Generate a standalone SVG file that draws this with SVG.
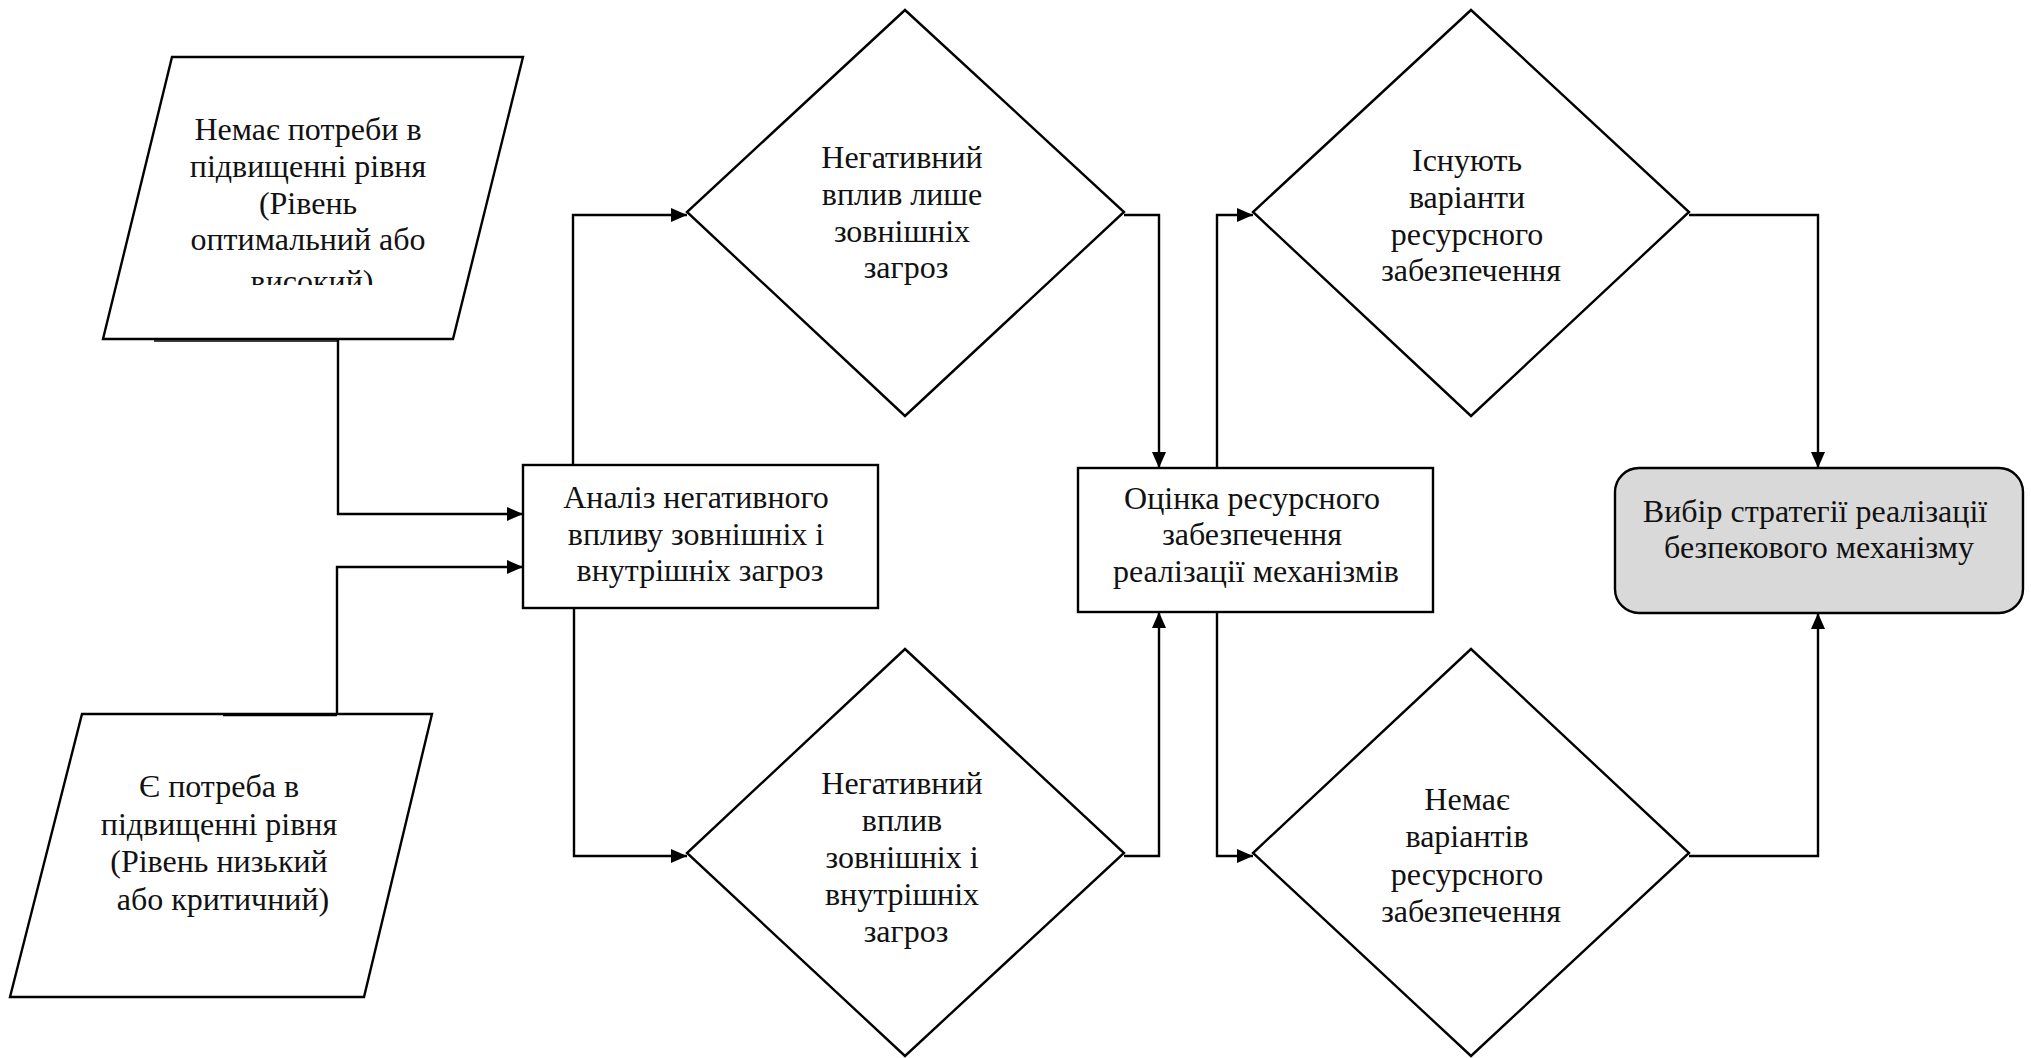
<svg xmlns="http://www.w3.org/2000/svg" width="2031" height="1058" viewBox="0 0 2031 1058">
  <style>
    .shape { fill: #ffffff; stroke: #000000; stroke-width: 2.4; stroke-linejoin: miter; }
    .final { fill: #d9d9d9; stroke: #000000; stroke-width: 2.4; }
    .label { font-family: "Liberation Serif", "Times New Roman", serif; font-size: 32px; fill: #111111; text-anchor: middle; }
    .wire { fill: none; stroke: #000000; stroke-width: 2.4; }
  </style>
  <defs>
    <marker id="arrow" viewBox="0 0 16 14" refX="16" refY="7" markerWidth="16" markerHeight="14" markerUnits="userSpaceOnUse" orient="auto">
      <path d="M0,0 L16,7 L0,14 Z" fill="#000000"/>
    </marker>
    <clipPath id="clip-p1">
      <rect x="100" y="57" width="430" height="228"/>
    </clipPath>
  </defs>

  <rect width="2031" height="1058" fill="#ffffff"/>

  <!-- connectors -->
  <g id="connectors">
    <path class="wire" d="M338,339 V514 H523" marker-end="url(#arrow)"/>
    <path class="wire" d="M337,714 V567 H523" marker-end="url(#arrow)"/>
    <path class="wire" d="M573,465 V215 H687" marker-end="url(#arrow)"/>
    <path class="wire" d="M574,608 V856 H687" marker-end="url(#arrow)"/>
    <path class="wire" d="M1124,215 H1159 V468" marker-end="url(#arrow)"/>
    <path class="wire" d="M1124,856 H1159 V612" marker-end="url(#arrow)"/>
    <path class="wire" d="M1217,468 V215 H1253" marker-end="url(#arrow)"/>
    <path class="wire" d="M1217,612 V856 H1253" marker-end="url(#arrow)"/>
    <path class="wire" d="M1689,215 H1818 V468" marker-end="url(#arrow)"/>
    <path class="wire" d="M1689,856 H1818 V613" marker-end="url(#arrow)"/>
  </g>

  <!-- input: no need to raise the level -->
  <g id="input-no-need">
    <polygon class="shape" points="172,57 523,57 453,339 103,339"/>
    <line x1="154" y1="341" x2="338" y2="341" stroke="#000" stroke-width="1.5"/>
    <g clip-path="url(#clip-p1)">
      <text class="label">
        <tspan x="312" y="140">Немає потреби в</tspan>
        <tspan x="312" y="177">підвищенні рівня</tspan>
        <tspan x="312" y="214">(Рівень</tspan>
        <tspan x="312" y="250">оптимальний або</tspan>
        <tspan x="312" y="292">високий)</tspan>
      </text>
    </g>
  </g>

  <!-- input: level must be raised -->
  <g id="input-need">
    <polygon class="shape" points="82,714 432,714 364,997 10,997"/>
    <line x1="223" y1="715.5" x2="337" y2="715.5" stroke="#000" stroke-width="1.5"/>
    <text class="label">
      <tspan x="223" y="797">Є потреба в</tspan>
      <tspan x="223" y="835">підвищенні рівня</tspan>
      <tspan x="223" y="872">(Рівень низький</tspan>
      <tspan x="223" y="910">або критичний)</tspan>
    </text>
  </g>

  <!-- threat analysis -->
  <g id="threat-analysis">
    <rect class="shape" x="523" y="465" width="355" height="143"/>
    <text class="label">
      <tspan x="700" y="508">Аналіз негативного</tspan>
      <tspan x="700" y="545">впливу зовнішніх і</tspan>
      <tspan x="700" y="581">внутрішніх загроз</tspan>
    </text>
  </g>

  <!-- decision: external threats only -->
  <g id="external-only">
    <polygon class="shape" points="905,10 1124,212 905,416 687,212"/>
    <text class="label">
      <tspan x="906" y="168">Негативний</tspan>
      <tspan x="906" y="205">вплив лише</tspan>
      <tspan x="906" y="242">зовнішніх</tspan>
      <tspan x="906" y="278">загроз</tspan>
    </text>
  </g>

  <!-- decision: external and internal threats -->
  <g id="external-internal">
    <polygon class="shape" points="905,649 1124,853 905,1056 687,853"/>
    <text class="label">
      <tspan x="906" y="794">Негативний</tspan>
      <tspan x="906" y="831">вплив</tspan>
      <tspan x="906" y="868">зовнішніх і</tspan>
      <tspan x="906" y="905">внутрішніх</tspan>
      <tspan x="906" y="942">загроз</tspan>
    </text>
  </g>

  <!-- resource assessment -->
  <g id="resource-assessment">
    <rect class="shape" x="1078" y="468" width="355" height="144"/>
    <text class="label">
      <tspan x="1256" y="509">Оцінка ресурсного</tspan>
      <tspan x="1256" y="545">забезпечення</tspan>
      <tspan x="1256" y="582">реалізації механізмів</tspan>
    </text>
  </g>

  <!-- decision: resource options exist -->
  <g id="resources-exist">
    <polygon class="shape" points="1471,10 1689,212 1471,416 1253,212"/>
    <text class="label">
      <tspan x="1471" y="171">Існують</tspan>
      <tspan x="1471" y="208">варіанти</tspan>
      <tspan x="1471" y="245">ресурсного</tspan>
      <tspan x="1471" y="281">забезпечення</tspan>
    </text>
  </g>

  <!-- decision: no resource options -->
  <g id="resources-missing">
    <polygon class="shape" points="1471,649 1689,853 1471,1056 1253,853"/>
    <text class="label">
      <tspan x="1471" y="810">Немає</tspan>
      <tspan x="1471" y="847">варіантів</tspan>
      <tspan x="1471" y="885">ресурсного</tspan>
      <tspan x="1471" y="922">забезпечення</tspan>
    </text>
  </g>

  <!-- outcome: strategy selection -->
  <g id="strategy-choice">
    <rect class="final" x="1615" y="468" width="408" height="145" rx="24" ry="24"/>
    <text class="label">
      <tspan x="1819" y="522">Вибір стратегії реалізації</tspan>
      <tspan x="1819" y="558">безпекового механізму</tspan>
    </text>
  </g>
</svg>
